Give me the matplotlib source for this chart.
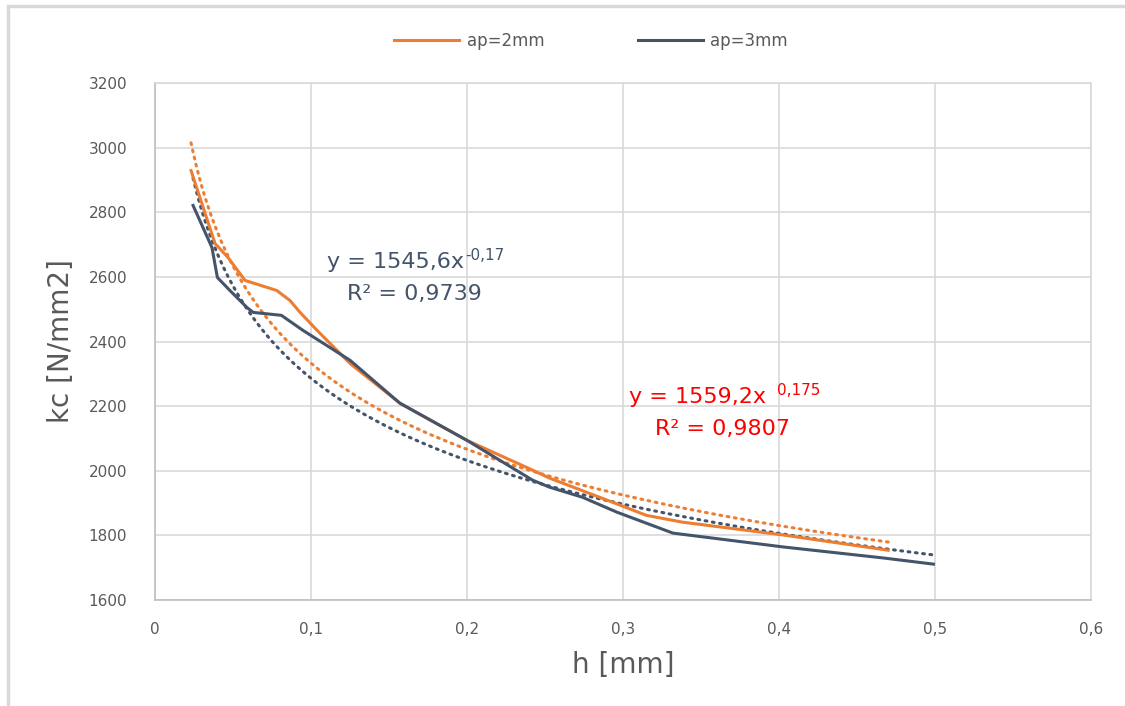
import numpy as np
import matplotlib
matplotlib.use("Agg")
import matplotlib.pyplot as plt
from matplotlib.patches import Rectangle

# measured data, ap=2mm
h_2mm = [0.0231, 0.0385, 0.0468, 0.0577, 0.078, 0.0865, 0.093, 0.104, 0.125,
         0.157, 0.2, 0.242, 0.253, 0.285, 0.315, 0.338, 0.403, 0.47]
kc_2mm = [2929, 2703, 2660, 2589, 2558, 2527, 2490, 2434, 2332,
          2209, 2094, 2002, 1977, 1918, 1862, 1841, 1801, 1754]

# measured data, ap=3mm
h_3mm = [0.0244, 0.0365, 0.040, 0.048, 0.059, 0.063, 0.081, 0.095, 0.125,
         0.157, 0.2, 0.242, 0.253, 0.274, 0.296, 0.332, 0.403, 0.467, 0.499]
kc_3mm = [2821, 2691, 2598, 2558, 2505, 2490, 2481, 2434, 2342,
          2209, 2094, 1971, 1949, 1918, 1872, 1807, 1764, 1730, 1711]

# power trendlines shown on the chart: y = a * x^b
fit_2mm = (1559.2, -0.175)
fit_3mm = (1545.6, -0.17)

orange = "#ed7d31"
navy = "#44546a"
grey = "#595959"
red = "#ff0000"
fam = "DejaVu Sans"

fig = plt.figure(figsize=(11.25, 7.06), dpi=100)
ax = fig.add_axes([155/1125, 1-600/706, (1091-155)/1125, (600-83)/706])

for h, kc, fit, col, lab in [(h_2mm, kc_2mm, fit_2mm, orange, "ap=2mm"),
                             (h_3mm, kc_3mm, fit_3mm, navy, "ap=3mm")]:
    ax.plot(h, kc, color=col, lw=2.2, label=lab, zorder=3)
    xs = np.linspace(min(h), max(h), 300)
    ax.plot(xs, fit[0]*xs**fit[1], color=col, lw=2.2, ls=(0, (0.6, 1.8)),
            dash_capstyle="round", zorder=2)

ax.set_xlim(0, 0.6)
ax.set_ylim(1600, 3200)
ax.set_xticks(np.arange(0, 0.61, 0.1))
ax.set_xticklabels(["0", "0,1", "0,2", "0,3", "0,4", "0,5", "0,6"])
ax.set_yticks(range(1600, 3201, 200))
ax.grid(True, color="#d9d9d9", lw=1.2)
ax.set_axisbelow(True)
for s in ax.spines.values():
    s.set_color("#d9d9d9")
    s.set_linewidth(1.2)
ax.spines["left"].set_color("#bfbfbf")
ax.spines["bottom"].set_color("#bfbfbf")
ax.tick_params(length=0, labelsize=11, labelcolor=grey, pad=16)
for t in ax.get_yticklabels() + ax.get_xticklabels():
    t.set_fontfamily(fam)
ax.tick_params(axis="y", pad=20)

ax.set_xlabel("h [mm]", fontsize=20, color=grey, family=fam, labelpad=10)
ax.set_ylabel("kc [N/mm2]", fontsize=20, color=grey, family=fam, labelpad=10)

# trendline equations
ax.text(0.110, 2626, "y = 1545,6x", fontsize=16, color=navy, family=fam, va="baseline")
ax.text(0.1987, 2651, "-0,17", fontsize=11, color=navy, family=fam, va="baseline")
ax.text(0.123, 2527, "R² = 0,9739", fontsize=16, color=navy, family=fam, va="baseline")
ax.text(0.304, 2209, "y = 1559,2x", fontsize=16, color=red, family=fam, va="baseline")
ax.text(0.399, 2233, "0,175", fontsize=11, color=red, family=fam, va="baseline")
ax.text(0.3205, 2110, "R² = 0,9807", fontsize=16, color=red, family=fam, va="baseline")

leg = ax.legend(loc="lower center", bbox_to_anchor=(0.466, 1.035), ncol=2,
                frameon=False, handlelength=3.9, handletextpad=0.45,
                columnspacing=5.6, prop={"family": fam, "size": 12})
for t in leg.get_texts():
    t.set_color(grey)

# chart frame
fig.patches.append(Rectangle((8/1125, -0.05), 1.1, 1 - 6/706 + 0.05,
                             transform=fig.transFigure, fill=False,
                             ec="#d9d9d9", lw=2.5))

fig.savefig("out.png", dpi=100)
